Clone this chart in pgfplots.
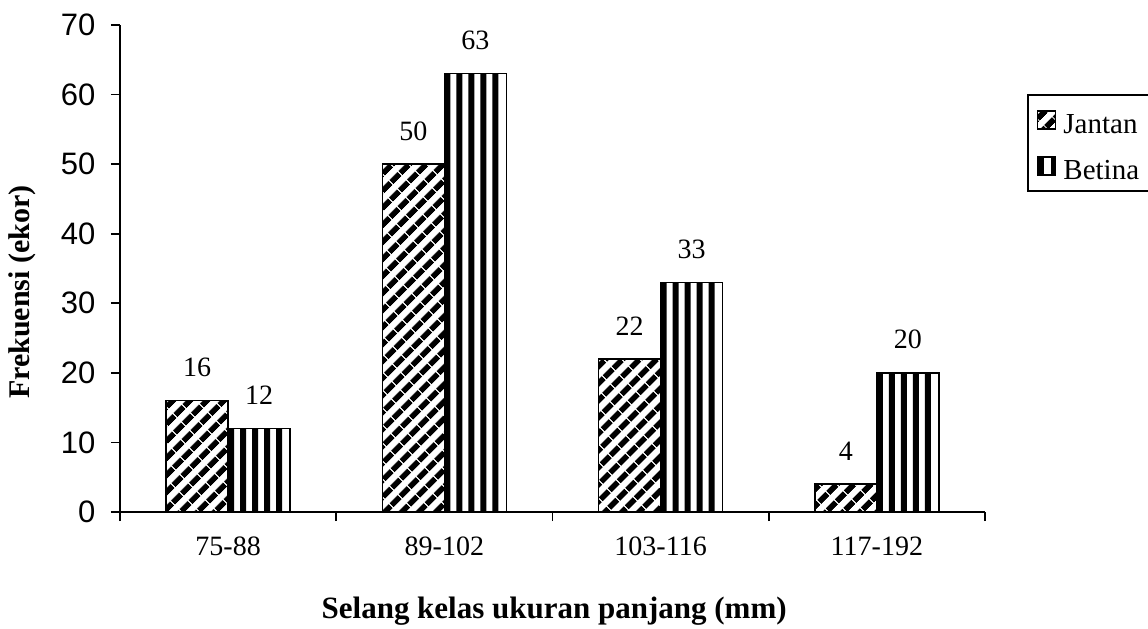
\documentclass[border=0pt]{standalone}
\usepackage{pgfplots}
\pgfplotsset{compat=1.18}
\usepackage{fontspec}
\setmainfont{Liberation Serif}
\newfontfamily\arialf{Liberation Sans}
\usetikzlibrary{patterns.meta}
\pgfplotstableread{
x jantan betina
0 16 12
1 50 63
2 22 33
3 4 20
}\datatable
\pgfplotsset{
  stripe/.style={forget plot, fill=black, draw=none, bar width=3pt, bar shift=#1},
}
\begin{document}
\begin{tikzpicture}
\path[use as bounding box] (-60pt,-58pt) rectangle (514pt,256pt);
\begin{axis}[
  at={(0,0)}, anchor=south west,
  scale only axis, width=432.5pt, height=243.5pt,
  ybar=0pt, bar width=31pt,
  xmin=-0.5, xmax=3.5, ymin=0, ymax=70,
  axis lines*=left,
  axis line style={line width=0.9pt, black},
  xtick={-0.5,0.5,1.5,2.5,3.5}, xticklabels={,,,,},
  extra x ticks={0,1,2,3},
  extra x tick labels={75-88,89-102,103-116,117-192},
  extra x tick style={major tick length=0pt},
  ytick={0,10,...,70},
  tick align=outside,
  major tick length=4.5pt,
  tick style={line width=0.9pt, black},
  /pgf/number format/assume math mode=true,
  xticklabel style={font=\fontsize{14}{16}\selectfont, anchor=north, yshift=-9pt},
  yticklabel style={font=\arialf\fontsize{15.5}{18}\selectfont, anchor=east, xshift=-4.3pt},
  xlabel={Selang kelas ukuran panjang (mm)},
  ylabel={Frekuensi (ekor)},
  xlabel style={font=\bfseries\fontsize{15.5}{18}\selectfont, at={(axis description cs:0.502,-0.2033)}, anchor=center},
  ylabel style={font=\bfseries\fontsize{15}{18}\selectfont, at={(axis description cs:-0.1133,0.4517)}, anchor=center},
  every node near coord/.append style={font=\fontsize{14}{16}\selectfont, anchor=south, inner sep=0pt, yshift=11.5pt, black},
  legend style={at={(axis description cs:1.0486,0.858)}, anchor=north west,
    draw=black, line width=0.9pt, font=\fontsize{14.5}{16}\selectfont,
    inner xsep=4.5pt, inner ysep=4.5pt, row sep=7pt, column sep=2pt,
    nodes={inner sep=1.5pt, text height=13pt, text depth=0pt}},
  legend cell align=left,
  clip=false,
]
% vertical stripes of the Betina bars
\addplot[stripe=1.5pt] table[x=x, y=betina] {\datatable};
\addplot[stripe=7.5pt] table[x=x, y=betina] {\datatable};
\addplot[stripe=13.5pt] table[x=x, y=betina] {\datatable};
\addplot[stripe=19.5pt] table[x=x, y=betina] {\datatable};
\addplot[stripe=25.5pt] table[x=x, y=betina] {\datatable};
% Jantan bars
\addplot[draw=black, line width=0.75pt, bar shift=-15.5pt,
  pattern={Lines[angle=45, distance=6.4pt, line width=3.2pt]},
  nodes near coords,
  legend image code/.code={\draw[line width=0.6pt, pattern={Lines[angle=45, distance=6.4pt, line width=3.2pt]}] (0pt,-4.5pt) rectangle (9pt,4.5pt);}]
  table[x=x, y=jantan] {\datatable};
\addlegendentry{Jantan}
% Betina bar outlines
\addplot[draw=black, fill=none, line width=0.75pt, bar shift=15.5pt,
  nodes near coords,
  legend image code/.code={
    \fill[black] (0pt,-4.5pt) rectangle (9pt,4.5pt);
    \fill[white] (3.3pt,-3.7pt) rectangle (6.1pt,3.7pt);}]
  table[x=x, y=betina] {\datatable};
\addlegendentry{Betina}
\end{axis}
\end{tikzpicture}
\end{document}
